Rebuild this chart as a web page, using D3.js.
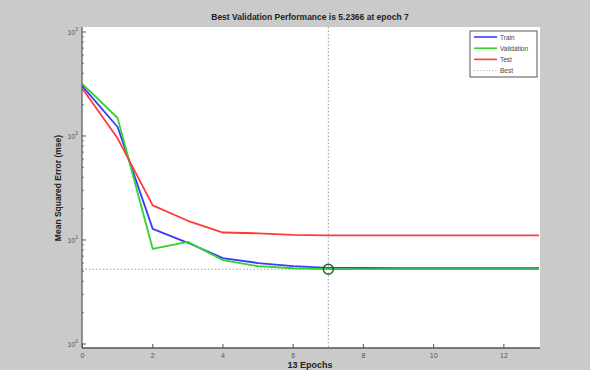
<!DOCTYPE html>
<html>
<head>
<meta charset="utf-8">
<script src="https://cdn.jsdelivr.net/npm/d3@7"></script>
<style>
  html, body { margin: 0; padding: 0; background: #cacaca; }
  svg { display: block; font-family: "Liberation Sans", Arial, sans-serif; }
</style>
</head>
<body>
<svg id="chart" width="590" height="370"></svg>
<script>
const epochs = [0, 1, 2, 3, 4, 5, 6, 7, 8, 9, 10, 11, 12, 13];
const train = [300, 122, 12.8, 9.4, 6.7, 6.0, 5.6, 5.4, 5.38, 5.37, 5.36, 5.36, 5.35, 5.35];
const validation = [316, 149, 8.2, 9.6, 6.4, 5.6, 5.35, 5.2366, 5.24, 5.24, 5.25, 5.25, 5.25, 5.25];
const test = [285, 95, 21.5, 15.3, 11.8, 11.6, 11.2, 11.1, 11.1, 11.1, 11.1, 11.1, 11.1, 11.1];
const xTicks = [0, 2, 4, 6, 8, 10, 12];
const yTicks = [1, 10, 100, 1000];
const bestEpoch = 7;
const bestPerf = 5.2366;

const series = [
    { name: "Train", values: train, color: "#3a3aff" },
    { name: "Validation", values: validation, color: "#2fd42f" },
    { name: "Test", values: test, color: "#ff3b3b" },
];

const plot = { left: 82, right: 540, top: 27, bottom: 348 };
const svg = d3.select("#chart");

const x = d3.scaleLinear().domain([0, 13]).range([plot.left + 0.5, plot.right - 1]);
const y = d3.scaleLog().domain([1, 1000]).range([344, 32]);

// white plotting area
svg.append("rect")
    .attr("x", plot.left).attr("y", plot.top)
    .attr("width", plot.right - plot.left).attr("height", plot.bottom - plot.top)
    .attr("fill", "#ffffff");

// title and labels
svg.append("text")
    .attr("x", 310).attr("y", 20)
    .attr("text-anchor", "middle")
    .attr("font-size", 8.5).attr("font-weight", "bold").attr("fill", "#222")
    .text("Best Validation Performance is 5.2366 at epoch 7");

svg.append("text")
    .attr("x", 310).attr("y", 368)
    .attr("text-anchor", "middle")
    .attr("font-size", 9).attr("font-weight", "bold").attr("fill", "#222")
    .text("13 Epochs");

svg.append("text")
    .attr("transform", "translate(61,188) rotate(-90)")
    .attr("text-anchor", "middle")
    .attr("font-size", 8.5).attr("font-weight", "bold").attr("fill", "#222")
    .text("Mean Squared Error  (mse)");

// best markers
svg.append("line")
    .attr("x1", x(bestEpoch)).attr("x2", x(bestEpoch))
    .attr("y1", plot.top).attr("y2", plot.bottom)
    .attr("stroke", "#9a9a9a").attr("stroke-width", 1)
    .attr("stroke-dasharray", "1.5,2");

svg.append("line")
    .attr("x1", plot.left).attr("x2", plot.right)
    .attr("y1", y(bestPerf)).attr("y2", y(bestPerf))
    .attr("stroke", "#8fb08f").attr("stroke-width", 1)
    .attr("stroke-dasharray", "1.5,2");

// series lines
const line = d3.line()
    .x((d, i) => x(epochs[i]))
    .y((d) => y(d));

series.forEach((s) => {
    svg.append("path")
        .datum(s.values)
        .attr("fill", "none")
        .attr("stroke", s.color)
        .attr("stroke-width", 1.8)
        .attr("stroke-linejoin", "round")
        .attr("d", line);
});

svg.append("circle")
    .attr("cx", x(bestEpoch)).attr("cy", y(bestPerf))
    .attr("r", 5)
    .attr("fill", "none")
    .attr("stroke", "#2b5e2b")
    .attr("stroke-width", 1.5);

// axes (ticks point inwards, no box)
const axisColor = "#555";
const yMinor = [];
yTicks.slice(0, -1).forEach((t) => {
    for (let k = 2; k <= 9; k++) yMinor.push(t * k);
});

const yAxis = svg.append("g").attr("transform", `translate(${plot.left},0)`);
yAxis.append("line")
    .attr("x1", 0).attr("x2", 0).attr("y1", plot.top).attr("y2", plot.bottom)
    .attr("stroke", axisColor).attr("stroke-width", 1.2);
yAxis.selectAll(".minor").data(yMinor).enter().append("line")
    .attr("x1", 0).attr("x2", 2)
    .attr("y1", (d) => y(d)).attr("y2", (d) => y(d))
    .attr("stroke", axisColor).attr("stroke-width", 0.8);
yAxis.selectAll(".major").data(yTicks).enter().append("line")
    .attr("x1", 0).attr("x2", 4)
    .attr("y1", (d) => y(d)).attr("y2", (d) => y(d))
    .attr("stroke", axisColor).attr("stroke-width", 1);
const yLab = yAxis.selectAll(".lab").data(yTicks).enter().append("text")
    .attr("x", -4).attr("y", (d) => y(d) + 3)
    .attr("text-anchor", "end")
    .attr("font-size", 7).attr("fill", "#555");
yLab.append("tspan").text("10");
yLab.append("tspan")
    .attr("dy", -4).attr("font-size", 5)
    .text((d) => Math.round(Math.log10(d)));

const xAxis = svg.append("g").attr("transform", `translate(0,${plot.bottom})`);
xAxis.append("line")
    .attr("x1", plot.left).attr("x2", plot.right).attr("y1", 0).attr("y2", 0)
    .attr("stroke", axisColor).attr("stroke-width", 1.4);
xAxis.selectAll(".major").data(xTicks).enter().append("line")
    .attr("x1", (d) => x(d)).attr("x2", (d) => x(d))
    .attr("y1", 0).attr("y2", -4)
    .attr("stroke", axisColor).attr("stroke-width", 1);
xAxis.selectAll(".lab").data(xTicks).enter().append("text")
    .attr("x", (d) => x(d)).attr("y", 10)
    .attr("text-anchor", "middle")
    .attr("font-size", 7).attr("fill", "#555")
    .text((d) => d);

// legend
const legendItems = series.concat([{ name: "Best", color: "#a9c4dc", dotted: true }]);
const legend = svg.append("g").attr("transform", "translate(470,31)");
legend.append("rect")
    .attr("width", 67).attr("height", 46)
    .attr("fill", "#ffffff").attr("stroke", "#555").attr("stroke-width", 1);
legendItems.forEach((item, i) => {
    const ly = 6 + i * 11.2;
    legend.append("line")
        .attr("x1", 4).attr("x2", 27).attr("y1", ly).attr("y2", ly)
        .attr("stroke", item.color)
        .attr("stroke-width", item.dotted ? 1 : 1.6)
        .attr("stroke-dasharray", item.dotted ? "1.5,1.5" : null);
    legend.append("text")
        .attr("x", 30).attr("y", ly + 2.5)
        .attr("font-size", 6.5).attr("fill", "#444")
        .text(item.name);
});
</script>
</body>
</html>
